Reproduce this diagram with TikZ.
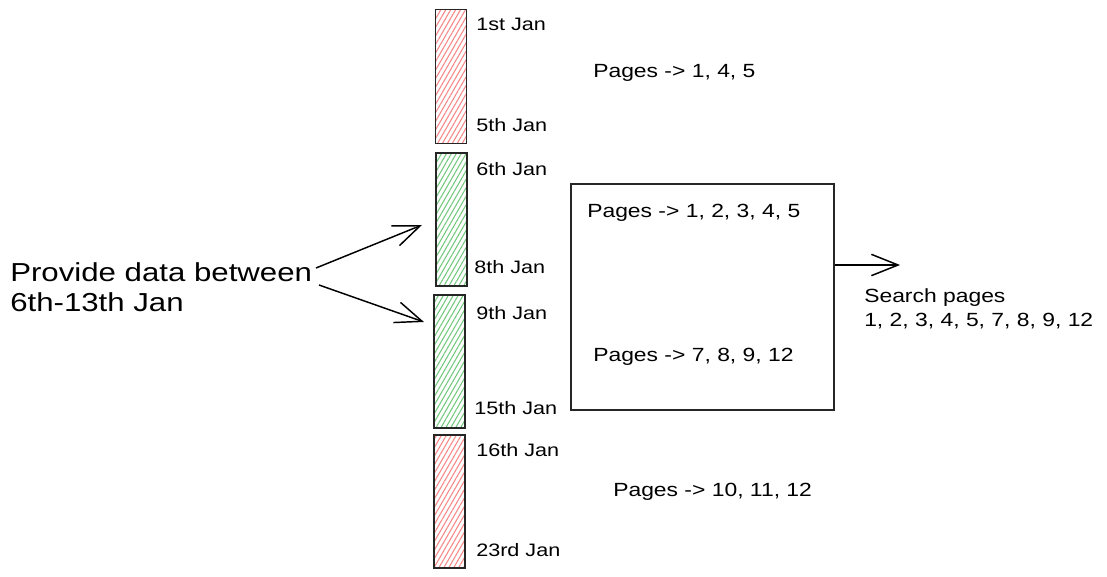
\documentclass[tikz,border=0pt]{standalone}
\usepackage{fontspec}
\setmainfont{Liberation Sans}[FakeStretch=1.2]
\usetikzlibrary{patterns.meta,arrows.meta}
\definecolor{hatchred}{RGB}{245,135,135}
\definecolor{hatchgreen}{RGB}{115,200,125}
\begin{document}
\begin{tikzpicture}[x=0.75pt,y=-0.75pt,
  bar/.style={draw=black!85, line width=1.2pt, minimum width=23.25pt, inner sep=0pt, anchor=north west},
  redbar/.style={bar, pattern={Lines[angle=60,distance=3.2pt,line width=0.8pt]}, pattern color=hatchred},
  greenbar/.style={bar, pattern={Lines[angle=60,distance=3.2pt,line width=0.8pt]}, pattern color=hatchgreen},
  lbl/.style={anchor=west, inner sep=0pt, font=\fontsize{13.5}{16}\selectfont},
  pg/.style={anchor=west, inner sep=0pt, font=\fontsize{14.3}{17}\selectfont},
  arr/.style={line width=1.1pt, -{Straight Barb[length=20pt,width=16pt,line width=1.1pt]}}
]
\useasboundingbox (0,0) rectangle (1107,577);
% bars
\node[redbar, minimum height=100.5pt] (b1) at (435,9) {};
\node[greenbar, minimum height=99.75pt] (b2) at (435,152) {};
\node[greenbar, minimum height=99.75pt] (b3) at (433,294) {};
\node[redbar, minimum height=99.75pt] (b4) at (433,434) {};
% date labels
\node[lbl] (l1) at (476,24) {1st Jan};
\node[lbl] (l2) at (476,125) {5th Jan};
\node[lbl] (l3) at (476,169) {6th Jan};
\node[lbl] (l4) at (474,267) {8th Jan};
\node[lbl] (l5) at (476,313) {9th Jan};
\node[lbl] (l6) at (474,408) {15th Jan};
\node[lbl] (l7) at (476,450) {16th Jan};
\node[lbl] (l8) at (476,550) {23rd Jan};
% pages
\node[pg] (p1) at (593,73) {Pages -> 1, 4, 5};
\node[draw=black!85, line width=1.2pt, minimum width=197.25pt, minimum height=169.5pt, inner sep=0pt, anchor=north west] (box) at (570,183) {};
\node[pg] (p2) at (587,213) {Pages -> 1, 2, 3, 4, 5};
\node[pg] (p3) at (593,357) {Pages -> 7, 8, 9, 12};
\node[pg] (p4) at (613,492) {Pages -> 10, 11, 12};
% search
\node[pg, anchor=north west, align=left, font=\fontsize{14.3}{18}\selectfont] (srch) at (864,288) {Search pages\\1, 2, 3, 4, 5, 7, 8, 9, 12};
\coordinate (rend) at (900,265);
\draw[arr] (box.east |- rend) -- (rend);
% provide
\node[anchor=north west, inner sep=0pt, align=left, font=\fontsize{19.5}{22.5}\selectfont] (prov) at (10,262) {Provide data between\\6th-13th Jan};
\coordinate (s1) at (316,268);
\coordinate (s2) at (319,285);
\coordinate (e1) at (422,225);
\coordinate (e2) at (424,322);
\draw[arr] (s1) -- (e1);
\draw[arr] (s2) -- (e2);
\end{tikzpicture}
\end{document}
